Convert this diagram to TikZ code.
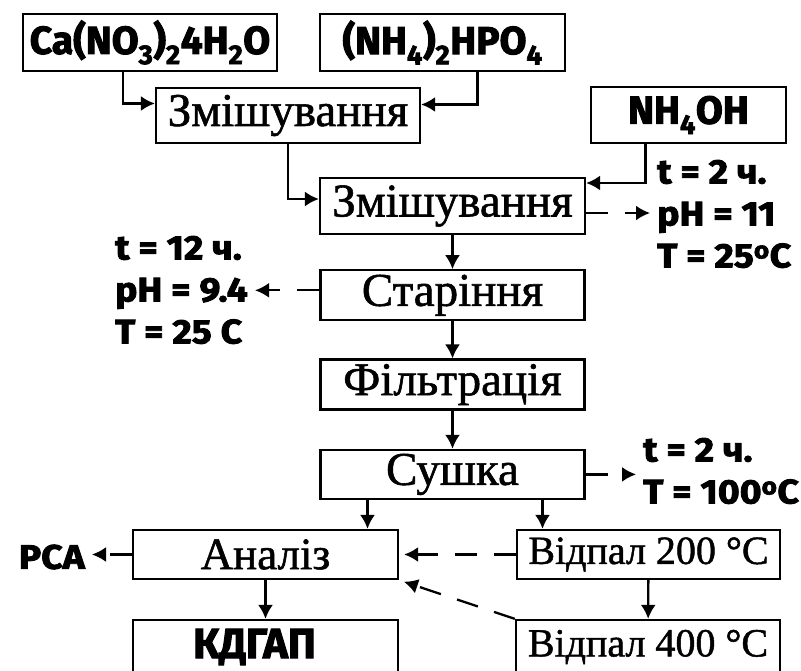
\documentclass[tikz,border=0pt]{standalone}
\usepackage{fontspec}
\setmainfont{Liberation Serif}
\newfontfamily\stepfont{Liberation Serif}[UprightFeatures={FakeBold=1.2}]
\newfontfamily\chemfont{Fira Sans}[BoldFeatures={FakeBold=2.5}]
\newfontfamily\notefont{Fira Sans}[FakeStretch=1.1,BoldFeatures={FakeBold=2.5}]
\usetikzlibrary{arrows.meta, positioning, calc}

\begin{document}
\begin{tikzpicture}[
    x=1pt, y=-1pt,
    chembox/.style={rectangle, draw, line width=2.3pt, inner sep=0pt, minimum height=57pt,
        font=\chemfont\bfseries\fontsize{39}{40}\selectfont},
    stepbox/.style={rectangle, draw, line width=2.3pt, inner sep=0pt, minimum width=264pt, minimum height=50pt,
        font=\stepfont\fontsize{47}{49}\selectfont},
    note/.style={align=left, inner xsep=7pt, inner ysep=0pt,
        font=\notefont\bfseries\fontsize{34}{42}\selectfont},
    line/.style={draw, line width=2.3pt, -{Latex[length=14pt, width=15pt]}},
    dline/.style={line, dash pattern=on 22pt off 17pt}
]
\useasboundingbox (0,0) rectangle (801,671);
\clip (0,0) rectangle (801,671);

% Reagents
\node [chembox, minimum width=254pt] (ca) at (150,42.5) {Ca(NO\textsubscript{3})\textsubscript{2}4H\textsubscript{2}O};
\node [chembox, minimum width=245pt] (hpo) at (442.5,42.5) {(NH\textsubscript{4})\textsubscript{2}HPO\textsubscript{4}};
\node [chembox, minimum width=195pt, minimum height=56pt] (nh4oh) at (688.5,115) {NH\textsubscript{4}OH};

% Main line
\node [stepbox, minimum height=55pt] (mix1) at (288,115.5) {Змішування};
\node [stepbox, minimum width=265pt, minimum height=56pt] (mix2) at (452.5,206) {Змішування};
\node [stepbox, below=34pt of mix2] (age) {Старіння};
\node [stepbox, below=37pt of age] (filt) {Фільтрація};
\node [stepbox, below=38pt of filt, minimum height=49pt] (dry) {Сушка};

% Analysis and annealing
\node [stepbox, minimum width=265pt, minimum height=49pt, font=\stepfont\fontsize{45}{47}\selectfont] (anal) at (265.5,554.5) {Аналіз};
\node [chembox, minimum width=265pt, minimum height=54pt, font=\chemfont\bfseries\fontsize{42}{44}\selectfont] (kdgap) at (265.5,647) {КДГАП\hspace*{22pt}};
\node [stepbox, minimum width=263pt, minimum height=49pt, font=\stepfont\fontsize{40}{42}\selectfont] (ann200) at (648.5,554.5) {Відпал 200 °С};
\node [stepbox, minimum width=264pt, minimum height=54pt, font=\stepfont\fontsize{40}{42}\selectfont] (ann400) at (648,647) {Відпал 400 °С};

% Conditions
\node [note, anchor=west] (mixnote) at (650,214) {t = 2 ч.\\pH = 11\\T = 25\textsuperscript{o}C};
\node [note, anchor=east] (agenote) at (255,290) {t = 12 ч.\\pH = 9.4\\T = 25 C};
\node [note, anchor=west] (drynote) at (636,471) {t = 2 ч.\\T = 100\textsuperscript{o}C};
\node [note, anchor=east] (pca) at (92,557) {РСА};

% Connections
\draw [line] ([xshift=-27pt]ca.south) |- ([yshift=12pt]mix1.west);
\draw [line] ([xshift=35pt]hpo.south) |- ([yshift=11pt]mix1.east);
\draw [line] (mix1.south) |- ([yshift=7pt]mix2.west);
\draw [line] ([xshift=-43pt]nh4oh.south) |- ([yshift=23pt]mix2.east);
\draw [line] (mix2) -- (age);
\draw [line] (age) -- (filt);
\draw [line] (filt) -- (dry);
\draw [line] ([xshift=-85pt]dry.south) -- ([xshift=-85pt]dry.south |- anal.north);
\draw [line] ([xshift=90pt]dry.south) -- ([xshift=90pt]dry.south |- ann200.north);
\draw [line] (anal) -- (kdgap);
\draw [line] (ann200) -- (ann400);

\draw [dline] ([yshift=-7pt]mix2.east) -- ([yshift=-7pt]mix2.east -| mixnote.west);
\draw [dline] ([yshift=5pt]age.west) -- ([yshift=5pt]age.west -| agenote.east);
\draw [dline] (dry.east) -- (dry.east -| drynote.west);
\draw [dline] (anal.west) -- (anal.west -| pca.east);
\draw [dline, shorten >=5pt] (ann200.west) -- (ann200.west -| anal.east);
\draw [dline, shorten >=5pt] (ann400.north west) -- (anal.south east);

\end{tikzpicture}
\end{document}
